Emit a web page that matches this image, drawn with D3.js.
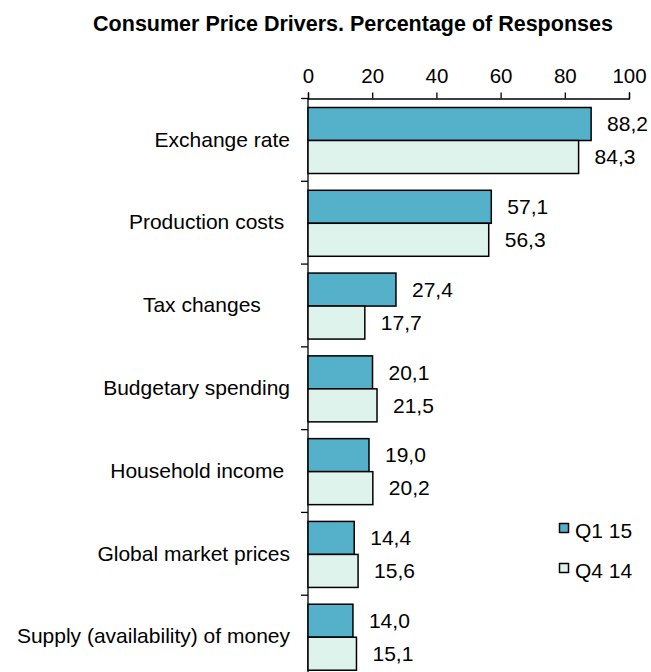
<!DOCTYPE html>
<html>
<head>
<meta charset="utf-8">
<script src="https://cdn.jsdelivr.net/npm/d3@7"></script>
<style>
  body { margin: 0; background: #fff; }
  svg text { font-family: "Liberation Sans", Arial, sans-serif; fill: #000; white-space: pre; }
  .axis path, .axis line { stroke: #000; stroke-width: 1.3; }
</style>
</head>
<body>
<div id="chart"></div>
<script>
// labels keep the trailing spaces of the source chart
const categories = ['Exchange rate', 'Production costs ', 'Tax changes     ', 'Budgetary spending',
  'Household income ', 'Global market prices', 'Supply (availability) of money'];
const seriesNames = ['Q1 15', 'Q4 14'];
const q1_15 = [88.2, 57.1, 27.4, 20.1, 19.0, 14.4, 14.0];
const q4_14 = [84.3, 56.3, 17.7, 21.5, 20.2, 15.6, 15.1];
const xTicks = [0, 20, 40, 60, 80, 100];

const colors = { 'Q1 15': '#55b1ca', 'Q4 14': '#ddf3ec' };
const fmt = v => v.toFixed(1).replace('.', ',');

const data = categories.map((c, i) => ({ cat: c, 'Q1 15': q1_15[i], 'Q4 14': q4_14[i] }));

const W = 651, H = 672;
const svg = d3.select('#chart').append('svg').attr('width', W).attr('height', H);

svg.append('text')
  .attr('x', 353).attr('y', 31)
  .attr('text-anchor', 'middle')
  .style('font-size', '21.5px').style('font-weight', 'bold')
  .text('Consumer Price Drivers. Percentage of Responses');

const x = d3.scaleLinear().domain([0, 100]).range([308, 629]);
const y = d3.scaleBand().domain(categories).range([98.5, 678]);
const sub = d3.scaleBand().domain(seriesNames).range([9, 75]);

// top value axis
svg.append('g')
  .attr('class', 'axis')
  .attr('transform', 'translate(0,98.5)')
  .call(d3.axisTop(x).tickValues(xTicks).tickSize(6).tickPadding(10).tickSizeOuter(6))
  .call(g => g.selectAll('text').style('font-size', '20.5px'));

// category labels
svg.append('g')
  .attr('transform', 'translate(308,0)')
  .call(d3.axisLeft(y).tickSize(0).tickPadding(18))
  .call(g => g.select('.domain').remove())
  .call(g => g.selectAll('text').style('font-size', '21px'));

// category axis line and boundary ticks
const bounds = categories.map(c => y(c)).concat([y.range()[1]]);
svg.append('line')
  .attr('x1', x(0)).attr('x2', x(0))
  .attr('y1', 98.5).attr('y2', H)
  .attr('stroke', '#000').attr('stroke-width', 1.3);
svg.selectAll('.cat-tick')
  .data(bounds)
  .enter().append('line')
  .attr('class', 'cat-tick')
  .attr('x1', x(0) - 7).attr('x2', x(0))
  .attr('y1', d => d).attr('y2', d => d)
  .attr('stroke', '#000').attr('stroke-width', 1.3);

const groups = svg.selectAll('.cat')
  .data(data)
  .enter().append('g')
  .attr('class', 'cat')
  .attr('transform', d => `translate(0,${y(d.cat)})`);

groups.selectAll('rect')
  .data(d => seriesNames.map(s => ({ s, v: d[s] })))
  .enter().append('rect')
  .attr('x', x(0))
  .attr('y', d => sub(d.s))
  .attr('width', d => x(d.v) - x(0))
  .attr('height', sub.bandwidth())
  .attr('fill', d => colors[d.s])
  .attr('stroke', '#000')
  .attr('stroke-width', 1.5);

groups.selectAll('.val')
  .data(d => seriesNames.map(s => ({ s, v: d[s] })))
  .enter().append('text')
  .attr('class', 'val')
  .attr('x', d => x(d.v) + 16)
  .attr('y', d => sub(d.s) + sub.bandwidth() / 2)
  .attr('dy', '0.35em')
  .style('font-size', '21px')
  .text(d => fmt(d.v));

// legend
const legend = svg.selectAll('.legend')
  .data(seriesNames)
  .enter().append('g')
  .attr('class', 'legend')
  .attr('transform', (d, i) => `translate(559,${528 + i * 40})`);

legend.append('rect')
  .attr('x', 0.5).attr('y', -4.5)
  .attr('width', 9).attr('height', 9)
  .attr('fill', d => colors[d])
  .attr('stroke', '#000').attr('stroke-width', 1.5);

legend.append('text')
  .attr('x', 16).attr('y', 3)
  .attr('dy', '0.35em')
  .style('font-size', '21px')
  .text(d => d);
</script>
</body>
</html>
